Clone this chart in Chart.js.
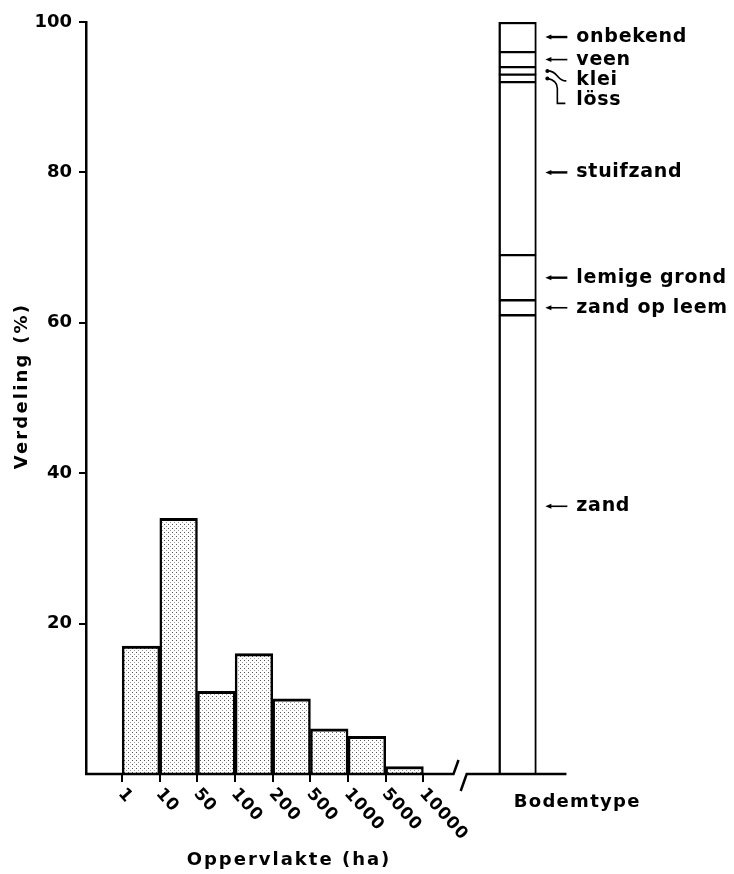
<!DOCTYPE html>
<html>
<head>
<meta charset="utf-8">
<title>Verdeling naar oppervlakte en bodemtype</title>
<script src="https://cdn.jsdelivr.net/npm/chart.js@4.4.1/dist/chart.umd.min.js"></script>
<style>
  html, body { margin: 0; padding: 0; background: #fff; }
  #wrap { width: 734px; height: 874px; }
</style>
</head>
<body>
<div id="wrap"><canvas id="chart" width="734" height="874"></canvas></div>
<script>
// grootteklassen (ha): grenzen en aandeel per klasse (%)
const klasseGrenzen = ['1', '10', '50', '100', '200', '500', '1000', '5000', '10000'];
const aandeelPerKlasse = [17, 34, 11, 16, 10, 6, 5, 1];

// bodemtypen van onder naar boven, aandeel (%)
const bodemtypen = ['zand', 'zand op leem', 'lemige grond', 'stuifzand', 'löss', 'klei', 'veen', 'onbekend'];
const aandeelBodem = [61, 2, 6, 23, 1, 1, 2, 4];

const yTicks = [20, 40, 60, 80, 100];

const FONT = 'DejaVu Sans';
const kolomPlaats = klasseGrenzen.length + 1.5;   // bodemkolom staat na de asonderbreking

// gestippelde vulling voor de histogram
function stippel() {
  const t = document.createElement('canvas');
  t.width = 4; t.height = 4;
  const c = t.getContext('2d');
  c.fillStyle = '#fff'; c.fillRect(0, 0, 4, 4);
  c.fillStyle = '#555'; c.fillRect(0, 0, 1, 1);
  c.fillStyle = '#999'; c.fillRect(2, 2, 1, 1);
  return document.getElementById('chart').getContext('2d').createPattern(t, 'repeat');
}

const histogram = {
  label: 'Oppervlakte (ha)',
  data: aandeelPerKlasse.map((v, i) => ({ x: i + 0.5, y: v })),
  stack: 'oppervlakte',
  grouped: false,
  backgroundColor: stippel(),
  borderColor: '#000',
  borderWidth: { top: 3, left: 2.5, right: 2.5, bottom: 0 },
  borderSkipped: 'start',
  categoryPercentage: 1,
  barPercentage: 1
};

const bodemSets = bodemtypen.map((naam, i) => ({
  label: naam,
  data: [{ x: kolomPlaats, y: aandeelBodem[i] }],
  stack: 'bodem',
  grouped: false,
  backgroundColor: '#fff',
  borderColor: '#000',
  borderWidth: {
    top: i === bodemtypen.length - 1 ? 2.5 : 1.5,
    bottom: i === 0 ? 0 : 1.5,
    left: 2.5, right: 2
  },
  borderSkipped: false,
  categoryPercentage: 1,
  barPercentage: 1
}));

function tekst(ctx, s, x, y, opts) {
  ctx.save();
  ctx.font = `bold ${opts.size}px "${FONT}"`;
  ctx.letterSpacing = (opts.spacing || 0) + 'px';
  ctx.fillStyle = '#000';
  ctx.textAlign = opts.align || 'left';
  ctx.textBaseline = 'middle';
  ctx.translate(x, y);
  if (opts.rot) ctx.rotate(opts.rot);
  ctx.fillText(s, 0, 0);
  ctx.restore();
}

function pijl(ctx, xPunt, y, xEind, dik) {
  ctx.save();
  ctx.strokeStyle = '#000';
  ctx.fillStyle = '#000';
  ctx.lineWidth = dik;
  ctx.beginPath();
  ctx.moveTo(xPunt + 4, y);
  ctx.lineTo(xEind, y);
  ctx.stroke();
  ctx.beginPath();
  ctx.moveTo(xPunt, y);
  ctx.lineTo(xPunt + 6, y - 2.5);
  ctx.lineTo(xPunt + 6, y + 2.5);
  ctx.closePath();
  ctx.fill();
  ctx.restore();
}

const opmaak = {
  id: 'opmaak',
  afterDraw(chart, args, o) {
    const { ctx, chartArea } = chart;
    const xs = chart.scales.x, ys = chart.scales.y;
    const yAs = chartArea.bottom;

    // x-as met onderbreking
    ctx.save();
    ctx.strokeStyle = '#000';
    ctx.lineWidth = 2.5;
    const b1 = xs.getPixelForValue(o.breukVan);
    const b2 = xs.getPixelForValue(o.breukTot);
    const eind = xs.getPixelForValue(o.asEinde);
    ctx.beginPath();
    ctx.moveTo(chartArea.left - 1, yAs);
    ctx.lineTo(b1, yAs);
    ctx.lineTo(b1 + 5, yAs - 14);
    ctx.moveTo(b2 - 6, yAs + 17);
    ctx.lineTo(b2, yAs);
    ctx.lineTo(eind, yAs);
    ctx.stroke();
    ctx.restore();

    // schuine klassegrenzen
    klasseGrenzen.forEach((lab, i) => {
      const x = xs.getPixelForValue(i);
      tekst(ctx, lab, x - 1, yAs + 17, { size: 17, spacing: 0.8, rot: 48 * Math.PI / 180 });
    });

    tekst(ctx, 'Oppervlakte (ha)', 289, 860, { size: 18, spacing: 2, align: 'center' });
    tekst(ctx, 'Verdeling (%)', 22, 386, { size: 18, spacing: 2.2, align: 'center', rot: -Math.PI / 2 });

    const kolL = xs.getPixelForValue(kolomPlaats - 0.5);
    const kolR = xs.getPixelForValue(kolomPlaats + 0.5);
    tekst(ctx, 'Bodemtype', kolL + 15, 802, { size: 18, spacing: 1.3 });

    // benoeming bodemtypen met pijlen
    let onder = 0;
    bodemtypen.forEach((naam, i) => {
      const boven = onder + aandeelBodem[i];
      const v = o.wijzer[naam] !== undefined ? o.wijzer[naam] : (onder + boven) / 2;
      onder = boven;
      const y = ys.getPixelForValue(v);
      const xt = kolR + 40;
      ctx.save();
      ctx.strokeStyle = '#000';
      ctx.fillStyle = '#000';
      ctx.lineWidth = 1.6;
      if (naam === 'klei') {
        ctx.beginPath(); ctx.arc(kolR + 11, y, 2, 0, Math.PI * 2); ctx.fill();
        ctx.beginPath();
        ctx.moveTo(kolR + 11, y);
        ctx.quadraticCurveTo(kolR + 17, y, kolR + 21, y + 5);
        ctx.quadraticCurveTo(kolR + 25, y + 10, kolR + 30, y + 10);
        ctx.stroke();
        tekst(ctx, naam, xt, y + 9, { size: 19, spacing: 0.7 });
      } else if (naam === 'löss') {
        ctx.beginPath(); ctx.arc(kolR + 11, y, 2, 0, Math.PI * 2); ctx.fill();
        ctx.beginPath();
        ctx.moveTo(kolR + 11, y);
        ctx.quadraticCurveTo(kolR + 21, y + 2, kolR + 21, y + 10);
        ctx.lineTo(kolR + 21, y + 25);
        ctx.lineTo(kolR + 29, y + 25);
        ctx.stroke();
        tekst(ctx, naam, xt, y + 22, { size: 19, spacing: 0.7 });
      } else {
        pijl(ctx, kolR + 9, y, kolR + 31, naam === 'veen' || naam === 'zand op leem' || naam === 'zand' ? 1.6 : 2.4);
        tekst(ctx, naam, xt, y, { size: 19, spacing: 0.7 });
      }
      ctx.restore();
    });
  }
};

new Chart(document.getElementById('chart'), {
  type: 'bar',
  data: { datasets: [histogram, ...bodemSets] },
  options: {
    responsive: false,
    animation: false,
    devicePixelRatio: 1,
    layout: { padding: { top: 22, right: 160, left: 0, bottom: 0 } },
    plugins: {
      legend: { display: false },
      tooltip: { enabled: false },
      opmaak: {
        breukVan: 8.8,
        breukTot: 9.15,
        asEinde: 11.8,
        wijzer: { zand: 35.6, stuifzand: 80 }
      }
    },
    scales: {
      x: {
        type: 'linear',
        offset: false,
        min: -0.96,
        max: 12,
        afterBuildTicks: s => { s.ticks = klasseGrenzen.map((_, i) => ({ value: i })); },
        afterFit: s => { s.height = 100; },
        ticks: { display: false },
        grid: { offset: false, drawOnChartArea: false, drawTicks: true, tickLength: 8, color: '#000', lineWidth: 2 },
        border: { display: false }
      },
      y: {
        stacked: true,
        min: 0,
        max: 100,
        afterBuildTicks: s => { s.ticks = yTicks.map(v => ({ value: v })); },
        afterFit: s => { s.width = 86; },
        ticks: { color: '#000', padding: 7, font: { family: FONT, weight: 'bold', size: 18 } },
        grid: { drawOnChartArea: false, drawTicks: true, tickLength: 7, color: '#000', lineWidth: 2 },
        border: { display: true, color: '#000', width: 2.5 }
      }
    }
  },
  plugins: [opmaak]
});
</script>
</body>
</html>
